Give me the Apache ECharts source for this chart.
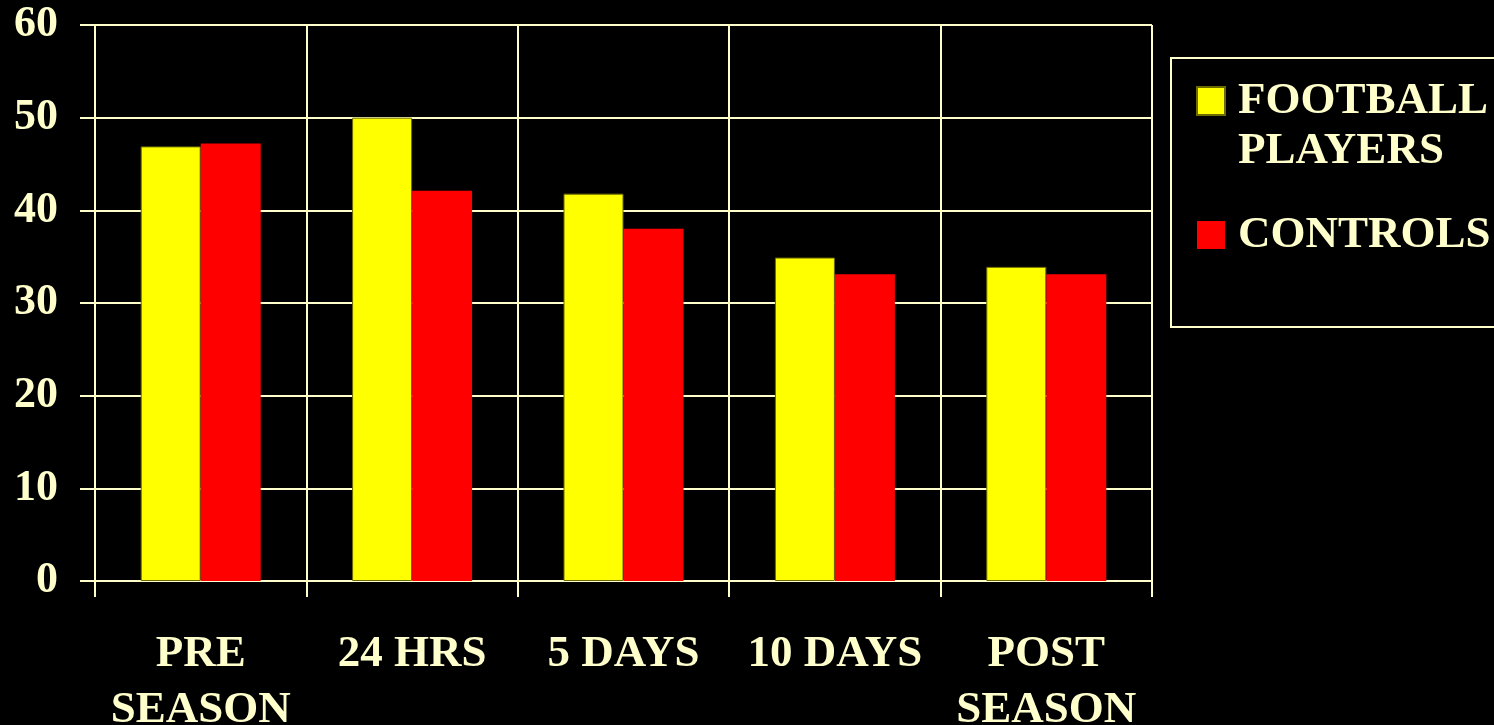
<!DOCTYPE html>
<html>
<head>
<meta charset="utf-8">
<script src="https://cdn.jsdelivr.net/npm/echarts@6/dist/echarts.min.js"></script>
<style>
  html, body { margin: 0; padding: 0; background: #000; }
  #chart { width: 1494px; height: 725px; }
</style>
</head>
<body>
<div id="chart"></div>
<script>
// data
const categories = ['PRE\nSEASON', '24 HRS', '5 DAYS', '10 DAYS', 'POST\nSEASON']
const footballPlayers = [46.9, 50, 41.8, 34.9, 33.9]
const controls = [47.2, 42.1, 38.0, 33.1, 33.1]
const yTicks = [0, 10, 20, 30, 40, 50, 60]

const cream = '#FFFFCC'
const font = "'Liberation Serif', 'Times New Roman', serif"

const chart = echarts.init(document.getElementById('chart'))

chart.setOption({
  backgroundColor: '#000',
  animation: false,
  textStyle: { fontFamily: font },
  grid: { left: 95, right: 342, top: 25, bottom: 144, outerBoundsMode: 'none', containLabel: false },
  legend: {
    orient: 'vertical',
    left: 1171,
    top: 58,
    // negative top padding: the blank first line of the 2-line name sits above the box
    padding: [-36, 60, 63, 25],
    itemGap: 26,
    itemWidth: 28,
    itemHeight: 28,
    icon: 'rect',
    backgroundColor: '#000',
    borderColor: cream,
    borderWidth: 2,
    borderRadius: 0,
    selectedMode: false,
    // blank line first so the first text line lines up with the square
    formatter: (name) => name.indexOf('\n') >= 0 ? '\n' + name : name,
    textStyle: {
      color: cream,
      fontSize: 45,
      fontWeight: 'bold',
      fontFamily: font,
      lineHeight: 50,
      padding: [8, 0, 0, 8]
    },
    data: ['FOOTBALL\nPLAYERS', 'CONTROLS']
  },
  xAxis: {
    type: 'category',
    data: categories,
    boundaryGap: true,
    axisLine: { show: true, lineStyle: { color: cream, width: 2 } },
    axisTick: { show: true, length: 16, interval: 0, lineStyle: { color: cream, width: 2 } },
    splitLine: { show: true, interval: 0, lineStyle: { color: cream, width: 2 } },
    axisLabel: {
      interval: 0,
      margin: 45,
      color: cream,
      fontSize: 45,
      fontWeight: 'bold',
      fontFamily: font,
      lineHeight: 56
    }
  },
  yAxis: {
    type: 'value',
    min: yTicks[0],
    max: yTicks[yTicks.length - 1],
    interval: 10,
    axisLine: { show: true, lineStyle: { color: cream, width: 2 } },
    axisTick: { show: true, length: 15, lineStyle: { color: cream, width: 2 } },
    splitLine: { show: true, lineStyle: { color: cream, width: 2 } },
    axisLabel: {
      margin: 37,
      color: cream,
      fontSize: 44,
      fontWeight: 'bold',
      fontFamily: font
    }
  },
  series: [
    {
      name: 'FOOTBALL\nPLAYERS',
      type: 'bar',
      barWidth: 60,
      barGap: '0%',
      itemStyle: { color: '#FFFF00', borderColor: '#6b6b00', borderWidth: 1 },
      data: footballPlayers
    },
    {
      name: 'CONTROLS',
      type: 'bar',
      barWidth: 60,
      barGap: '0%',
      itemStyle: { color: '#FF0000' },
      data: controls
    }
  ]
})
</script>
</body>
</html>
